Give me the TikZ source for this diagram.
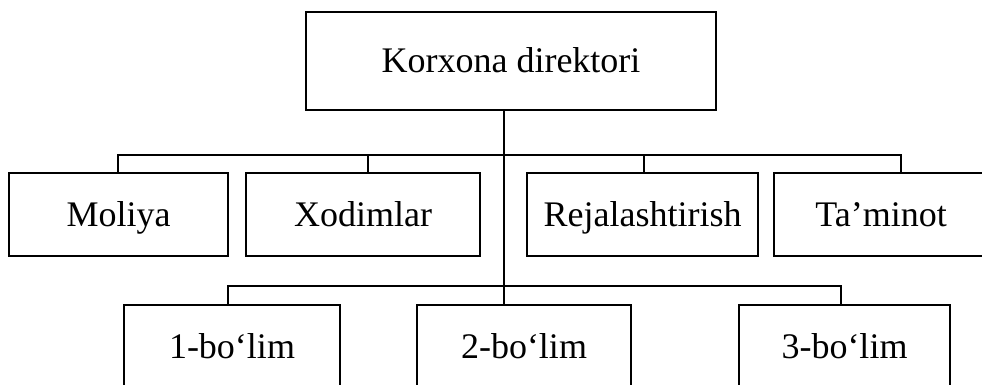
\documentclass[tikz,border=0pt]{standalone}
\usepackage{fontspec}
\setmainfont{Liberation Serif}
\begin{document}
\begin{tikzpicture}[x=1pt,y=-1pt,
  box/.style={draw, line width=1.5pt, text height=24pt, text depth=0pt, inner sep=0pt,
              font=\fontsize{36}{43}\selectfont},
  conn/.style={line width=1.4pt}]
\useasboundingbox (0,0) rectangle (982,385);
\clip (0,0) rectangle (982,385);
% top
\node[box, minimum width=410pt, minimum height=98pt] (dir) at (511,61) {Korxona direktori};
% second row
\node[box, minimum width=219pt, minimum height=83pt] (mol) at (118.5,214.5) {Moliya};
\node[box, minimum width=234pt, minimum height=83pt] (xod) at (363,214.5) {Xodimlar};
\node[box, minimum width=231pt, minimum height=83pt] (rej) at (642.5,214.5) {Rejalashtirish};
\node[box, minimum width=214pt, minimum height=83pt] (tam) at (881,214.5) {Ta’minot};
% third row
\node[box, minimum width=216pt, minimum height=83pt] (b1) at (232,346.5) {1-bo‘lim};
\node[box, minimum width=214pt, minimum height=83pt] (b2) at (524,346.5) {2-bo‘lim};
\node[box, minimum width=211pt, minimum height=83pt] (b3) at (844.5,346.5) {3-bo‘lim};
% tick x positions and bus levels
\coordinate (tx) at (504,0);
\coordinate (xm) at (118,0);
\coordinate (xx) at (368,0);
\coordinate (xr) at (644,0);
\coordinate (xt) at (901,0);
\coordinate (x1) at (228,0);
\coordinate (x3) at (841,0);
\coordinate (bus1) at (0,155);
\coordinate (bus2) at (0,286);
% trunk
\draw[conn] (dir.south -| tx) -- (b2.north -| tx);
% bus of second row
\draw[conn] (mol.north -| xm) -- (bus1 -| xm) -- (bus1 -| xt) -- (tam.north -| xt);
\draw[conn] (bus1 -| xx) -- (xod.north -| xx);
\draw[conn] (bus1 -| xr) -- (rej.north -| xr);
% bus of third row
\draw[conn] (b1.north -| x1) -- (bus2 -| x1) -- (bus2 -| x3) -- (b3.north -| x3);
\end{tikzpicture}
\end{document}
